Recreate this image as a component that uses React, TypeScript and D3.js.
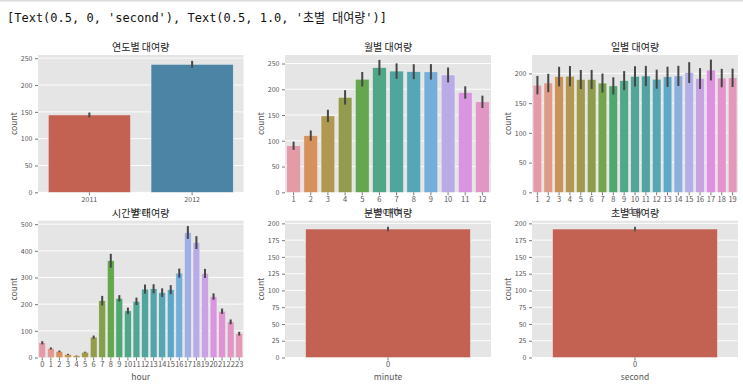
import { useEffect, useRef } from 'react';
import * as d3 from "d3";

// 연도별
const years = ["2011", "2012"];
const yearCount = [144.2, 238.6];
const yearErr = [4.5, 6.5];

// 월별
const months = ["1", "2", "3", "4", "5", "6", "7", "8", "9", "10", "11", "12"];
const monthCount = [90.4, 110.0, 148.2, 184.2, 219.5, 242.0, 235.3, 234.1, 233.8, 227.7, 193.7, 175.6];
const monthErr = [8, 10, 12, 14, 14, 15, 15, 14.5, 15, 14.5, 12, 12];

// 일별
const days = ["1", "2", "3", "4", "5", "6", "7", "8", "9", "10", "11", "12", "13", "14", "15", "16", "17", "18", "19"];
const dayCount = [180.3, 183.9, 194.7, 195.4, 189.8, 189.9, 183.8, 179.0, 187.9, 195.2, 195.7, 190.3, 194.3, 195.8, 201.5, 191.4, 205.7, 192.2, 192.6];
const dayErr = [15.5, 15.5, 16.5, 17, 16, 16, 16, 14.5, 16, 17, 17, 16, 17, 17, 17.5, 17.5, 17.5, 15.5, 15.5];

// 시간별
const hours = d3.range(24).map(String);
const hourCount = [55.1, 33.9, 22.9, 11.8, 6.4, 19.8, 76.3, 213.1, 362.8, 221.8, 175.1, 210.7, 256.5, 257.8, 243.4, 254.3, 316.4, 468.8, 430.9, 315.3, 228.5, 173.4, 133.6, 89.5];
const hourErr = [6, 4, 3, 2, 1, 2, 6, 18, 26, 12, 12, 14, 17, 17, 16, 17, 17, 24, 24, 17, 12, 10, 9, 7];

// 분별 / 초별
const minutes = ["0"];
const minuteCount = [191.6];
const minuteErr = [3.5];
const seconds = ["0"];
const secondCount = [191.6];
const secondErr = [3.5];

// y축 눈금
const yearTicks = [0, 50, 100, 150, 200, 250];
const monthTicks = [0, 50, 100, 150, 200, 250];
const dayTicks = [0, 50, 100, 150, 200];
const hourTicks = [0, 100, 200, 300, 400, 500];
const minuteTicks = [0, 25, 50, 75, 100, 125, 150, 175, 200];

const header = "[Text(0.5, 0, 'second'), Text(0.5, 1.0, '초별 대여량')]";

// ggplot 스타일 색상
const ggCycle = ['#E24A33', '#348ABD', '#988ED5', '#777777', '#FBC15E', '#8EBA42', '#FFB5B8'];

// husl -> rgb (seaborn husl.py 그대로)
const M = [[3.2406, -1.5372, -0.4986], [-0.9689, 1.8758, 0.0415], [0.0557, -0.2040, 1.0570]];
const REF_U = 0.19784, REF_V = 0.46834, KAPPA = 903.2963, EPS = 0.0088564;

function maxChroma(L: number, H: number) {
    const hr = H / 360 * Math.PI * 2;
    const sinH = Math.sin(hr), cosH = Math.cos(hr);
    const sub1 = Math.pow(L + 16, 3) / 1560896;
    const sub2 = sub1 > EPS ? sub1 : L / KAPPA;
    let result = Infinity;
    for (const [m1, m2, m3] of M) {
        const top = (0.99915 * m1 + 1.05122 * m2 + 1.14460 * m3) * sub2;
        const rbottom = 0.86330 * m3 - 0.17266 * m2;
        const lbottom = 0.12949 * m3 - 0.38848 * m1;
        const bottom = (rbottom * sinH + lbottom * cosH) * sub2;
        for (const t of [0, 1]) {
            const C = L * (top - 1.05122 * t) / (bottom + 0.17266 * sinH * t);
            if (C > 0 && C < result) result = C;
        }
    }
    return result;
}

function huslToRgb(H: number, S: number, L: number) {
    const C = maxChroma(L, H) / 100 * S;
    const hr = H / 180 * Math.PI;
    const U = Math.cos(hr) * C, V = Math.sin(hr) * C;
    const Y = L > 8 ? Math.pow((L + 16) / 116, 3) : L / KAPPA;
    const vu = U / (13 * L) + REF_U, vv = V / (13 * L) + REF_V;
    const X = -(9 * Y * vu) / ((vu - 4) * vv - vu * vv);
    const Z = (9 * Y - 15 * vv * Y - vv * X) / (3 * vv);
    return M.map(([a, b, c]) => {
        const v = a * X + b * Y + c * Z;
        const s = v <= 0.0031308 ? 12.92 * v : 1.055 * Math.pow(v, 1 / 2.4) - 0.055;
        return Math.min(1, Math.max(0, s));
    });
}

function barColors(n: number) {
    let base: d3.RGBColor[];
    if (n <= ggCycle.length) {
        base = ggCycle.slice(0, n).map(c => d3.rgb(c));
    } else {
        base = d3.range(n).map(i => {
            const h = ((i / n + 0.01) % 1) * 359;
            const [r, g, b] = huslToRgb(h, 0.9 * 99, 0.7 * 99);
            return d3.rgb(r * 255, g * 255, b * 255);
        });
    }
    // 채도 낮추기 (스크린샷 기준으로 0.65)
    const cols = base.map(c => {
        const h = d3.hsl(c);
        h.s *= 0.65;
        return h;
    });
    const minL = d3.min(cols, c => c.l) ?? 0.5;
    const g = Math.round(minL * 0.6 * 255);
    return { fills: cols.map(c => c.formatHex()), gray: d3.rgb(g, g, g).formatHex() };
}

const FONT = "'Noto Sans CJK KR', 'Noto Sans', sans-serif";

const App: React.FC = () => {
    const ref = useRef<SVGSVGElement | null>(null);

    useEffect(() => {
        if (!ref.current) return;
        const width = 743, height = 389;
        const svg = d3.select(ref.current).attr("width", width).attr("height", height);
        svg.selectAll("*").remove();

        svg.append("rect").attr("x", 0).attr("y", 0).attr("width", width).attr("height", 1.5).attr("fill", "#dcdcdc");

        svg.append("text")
            .attr("x", 7).attr("y", 22)
            .attr("font-family", "'DejaVu Sans Mono', 'Noto Sans CJK KR', monospace")
            .attr("font-size", 13)
            .attr("textLength", 380)
            .attr("lengthAdjust", "spacingAndGlyphs")
            .attr("fill", "#111")
            .text(header);

        const cols = [[38, 243.5], [285, 491], [532, 738]];
        const rows = [[55, 192.3], [220.7, 357.5]];

        const panels = [
            { title: "연도별 대여량", cats: years, vals: yearCount, err: yearErr, ticks: yearTicks, yMax: 256, xlabel: "year", c: 0, r: 0 },
            { title: "월별 대여량", cats: months, vals: monthCount, err: monthErr, ticks: monthTicks, yMax: 266.5, xlabel: "month", c: 1, r: 0 },
            { title: "일별 대여량", cats: days, vals: dayCount, err: dayErr, ticks: dayTicks, yMax: 231, xlabel: "day", c: 2, r: 0 },
            { title: "시간별 대여량", cats: hours, vals: hourCount, err: hourErr, ticks: hourTicks, yMax: 513, xlabel: "hour", c: 0, r: 1 },
            { title: "분별 대여량", cats: minutes, vals: minuteCount, err: minuteErr, ticks: minuteTicks, yMax: 204, xlabel: "minute", c: 1, r: 1 },
            { title: "초별 대여량", cats: seconds, vals: secondCount, err: secondErr, ticks: minuteTicks, yMax: 204, xlabel: "second", c: 2, r: 1 },
        ];

        const titleLayer = svg.append("g");

        panels.forEach(p => {
            const [x0, x1] = cols[p.c];
            const [y0, y1] = rows[p.r];
            const g = svg.append("g");

            const x = d3.scaleBand<string>()
                .domain(p.cats)
                .range([x0, x1])
                .paddingInner(0.2)
                .paddingOuter(0.1);
            const y = d3.scaleLinear().domain([0, p.yMax]).range([y1, y0]);

            const { fills, gray } = barColors(p.cats.length);

            g.append("rect")
                .attr("x", x0).attr("y", y0)
                .attr("width", x1 - x0).attr("height", y1 - y0)
                .attr("fill", "#E5E5E5");

            // 가로 격자
            g.selectAll(".grid")
                .data(p.ticks)
                .enter()
                .append("line")
                .attr("x1", x0).attr("x2", x1)
                .attr("y1", d => y(d)).attr("y2", d => y(d))
                .attr("stroke", "white")
                .attr("stroke-width", 0.9);

            // 막대
            g.selectAll(".bar")
                .data(p.vals)
                .enter()
                .append("rect")
                .attr("x", (_, i) => x(p.cats[i]) || 0)
                .attr("y", d => y(d))
                .attr("width", x.bandwidth())
                .attr("height", d => y1 - y(d))
                .attr("fill", (_, i) => fills[i])
                .attr("stroke", "#EEEEEE")
                .attr("stroke-width", 0.5);

            // 오차 막대
            g.selectAll(".err")
                .data(p.vals)
                .enter()
                .append("line")
                .attr("x1", (_, i) => (x(p.cats[i]) || 0) + x.bandwidth() / 2)
                .attr("x2", (_, i) => (x(p.cats[i]) || 0) + x.bandwidth() / 2)
                .attr("y1", (d, i) => y(d - p.err[i]))
                .attr("y2", (d, i) => y(d + p.err[i]))
                .attr("stroke", gray)
                .attr("stroke-width", 2);

            // y축
            const yAxis = d3.axisLeft(y).tickValues(p.ticks).tickSize(3).tickPadding(2.5);
            const ya = g.append("g").attr("transform", `translate(${x0}, 0)`).call(yAxis);
            ya.select(".domain").remove();
            ya.selectAll(".tick line").attr("stroke", "#555").attr("stroke-width", 0.8);
            ya.selectAll(".tick text").attr("fill", "#555").attr("font-size", 7).attr("font-family", FONT);

            // x축
            const xAxis = d3.axisBottom(x).tickSize(3).tickPadding(1.5);
            const xa = g.append("g").attr("transform", `translate(0, ${y1})`).call(xAxis);
            xa.select(".domain").remove();
            xa.selectAll(".tick line").attr("stroke", "#555").attr("stroke-width", 0.8);
            xa.selectAll(".tick text").attr("fill", "#555").attr("font-size", p.c === 0 && p.r === 0 ? 7 : 7.5).attr("font-family", FONT);

            // 축 이름 (윗줄 것은 아랫줄 제목과 겹침 - 원본도 그렇다)
            const cx = (x0 + x1) / 2;
            g.append("text")
                .attr("x", cx).attr("y", y1 + 22)
                .attr("text-anchor", "middle")
                .attr("fill", "#555")
                .attr("font-size", 8.5)
                .attr("font-family", FONT)
                .text(p.xlabel);

            g.append("text")
                .attr("transform", `translate(${x0 - 21.5}, ${(y0 + y1) / 2}) rotate(-90)`)
                .attr("text-anchor", "middle")
                .attr("fill", "#555")
                .attr("font-size", 8.5)
                .attr("font-family", FONT)
                .text("count");

            titleLayer.append("text")
                .attr("x", cx).attr("y", y0 - 4)
                .attr("text-anchor", "middle")
                .attr("fill", "#222")
                .attr("font-size", 10)
                .attr("font-family", FONT)
                .text(p.title);
        });

        titleLayer.raise();
    }, []);

    return (
        <svg ref={ref} style={{ position: "absolute", left: 0, top: 0, background: "white" }}></svg>
    );
}

export default App;
